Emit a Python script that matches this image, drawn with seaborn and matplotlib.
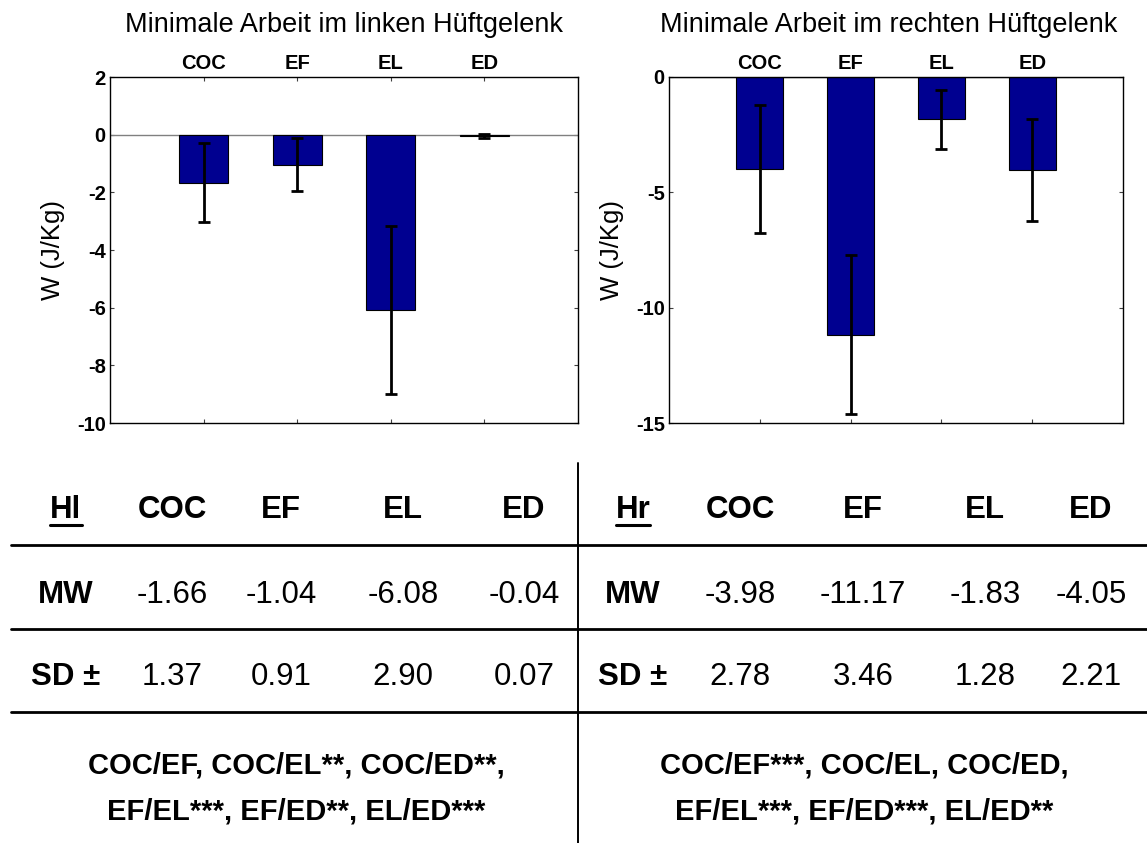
import numpy as np
import pandas as pd
import matplotlib
matplotlib.use("Agg")
import matplotlib.pyplot as plt
from matplotlib.lines import Line2D
import seaborn as sns

# Mean and standard deviation of the minimal hip work per condition
categories = ["COC", "EF", "EL", "ED"]
left_mean = [-1.66, -1.04, -6.08, -0.04]
left_sd = [1.37, 0.91, 2.90, 0.07]
right_mean = [-3.98, -11.17, -1.83, -4.05]
right_sd = [2.78, 3.46, 1.28, 2.21]

left_title = "Minimale Arbeit im linken Hüftgelenk"
right_title = "Minimale Arbeit im rechten Hüftgelenk"
ylabel = "W (J/Kg)"
left_yticks = [-10, -8, -6, -4, -2, 0, 2]
right_yticks = [-15, -10, -5, 0]

left_key = "Hl"
right_key = "Hr"
row_names = ["MW", "SD ±"]
left_sig = ["COC/EF, COC/EL**, COC/ED**,", "EF/EL***, EF/ED**, EL/ED***"]
right_sig = ["COC/EF***, COC/EL, COC/ED,", "EF/EL***, EF/ED***, EL/ED**"]

sns.set_theme(style="white")
plt.rcParams["font.family"] = ["Liberation Sans", "DejaVu Sans"]

W, H = 1147, 843
fig = plt.figure(figsize=(W / 100, H / 100), dpi=100)
fig.patch.set_facecolor("white")


def fx(px):
    return px / W


def fy(py):
    return 1 - py / H


BAR = "#000090"


def bar_panel(rect, means, sds, yticks, title, title_x):
    ax = fig.add_axes(rect)
    df = pd.DataFrame({"cond": categories, "w": means})
    sns.barplot(data=df, x="cond", y="w", ax=ax, color=BAR, saturation=1,
                width=0.52, edgecolor="black", linewidth=0.8, errorbar=None,
                zorder=2)
    ax.errorbar(np.arange(len(categories)), means, yerr=sds, fmt="none",
                ecolor="black", elinewidth=2.0, capsize=4, capthick=2.0,
                zorder=3)
    ax.axhline(0, color="#808080", lw=1.0, zorder=1)
    ax.set_xlim(-1, len(categories))
    ax.set_ylim(yticks[0], yticks[-1])
    ax.set_yticks(yticks)
    ax.set_yticklabels([str(t) for t in yticks], fontweight="bold", fontsize=14.5)
    ax.set_xticks(np.arange(len(categories)))
    ax.set_xticklabels(categories, fontweight="bold", fontsize=14.5)
    ax.set_xlabel("")
    ax.set_ylabel("")
    ax.tick_params(axis="both", direction="in", length=3, width=0.8,
                   color="#404040", labelcolor="black", pad=3,
                   top=True, bottom=True, left=True, right=True,
                   labeltop=True, labelbottom=False)
    for sp in ax.spines.values():
        sp.set_visible(True)
        sp.set_color("black")
        sp.set_linewidth(1.0)
    h_px = rect[3] * H
    ax.text(title_x, 1 + 45 / h_px, title, transform=ax.transAxes,
            ha="center", va="baseline", fontsize=19.5, color="black")
    w_px = rect[2] * W
    ax.text(-57 / w_px, 0.5, ylabel, transform=ax.transAxes, rotation=90,
            ha="center", va="center", fontsize=18.5, color="black")
    return ax


top_px, bot_px = 77, 423
ax_l = bar_panel([fx(110), fy(bot_px), (578 - 110) / W, (bot_px - top_px) / H],
                 left_mean, left_sd, left_yticks, left_title, 0.5)
ax_r = bar_panel([fx(669), fy(bot_px), (1123 - 669) / W, (bot_px - top_px) / H],
                 right_mean, right_sd, right_yticks, right_title, 0.483)

# Summary table beneath the charts
for yy in (545, 629, 712):
    fig.add_artist(Line2D([fx(11), fx(1147)], [fy(yy), fy(yy)], color="black",
                          lw=2.0, transform=fig.transFigure))
fig.add_artist(Line2D([fx(578), fx(578)], [fy(463), fy(843)], color="black",
                      lw=1.4, transform=fig.transFigure))

FS = 22.5
FS_SIG = 21
header_y, mw_y, sd_y = 518, 603, 685
left_cols = [172, 281, 403, 524]
right_cols = [740, 863, 985, 1091]
key_x = {"l": 66, "r": 633}


def cell(x, y, s, bold, size=FS):
    return fig.text(fx(x), fy(y), s, ha="center", va="baseline", fontsize=size,
                    fontweight="bold" if bold else "normal", color="black")


def side(key, kx, cols, means, sds, sig, sig_x):
    t = cell(kx, header_y, key, True)
    fig.canvas.draw()
    bb = t.get_window_extent()
    fig.add_artist(Line2D([bb.x0 / W, bb.x1 / W],
                          [fy(header_y + 7), fy(header_y + 7)],
                          color="black", lw=2.2, transform=fig.transFigure))
    for c, x in zip(categories, cols):
        cell(x, header_y, c, True)
    cell(kx, mw_y, row_names[0], True)
    cell(kx, sd_y, row_names[1], True)
    for x, m, s in zip(cols, means, sds):
        cell(x, mw_y, f"{m:.2f}", False)
        cell(x, sd_y, f"{s:.2f}", False)
    cell(sig_x, 773, sig[0], True, FS_SIG)
    cell(sig_x, 819, sig[1], True, FS_SIG)


side(left_key, key_x["l"], left_cols, left_mean, left_sd, left_sig, 296)
side(right_key, key_x["r"], right_cols, right_mean, right_sd, right_sig, 864)

fig.savefig("out.png", dpi=100, facecolor="white")
